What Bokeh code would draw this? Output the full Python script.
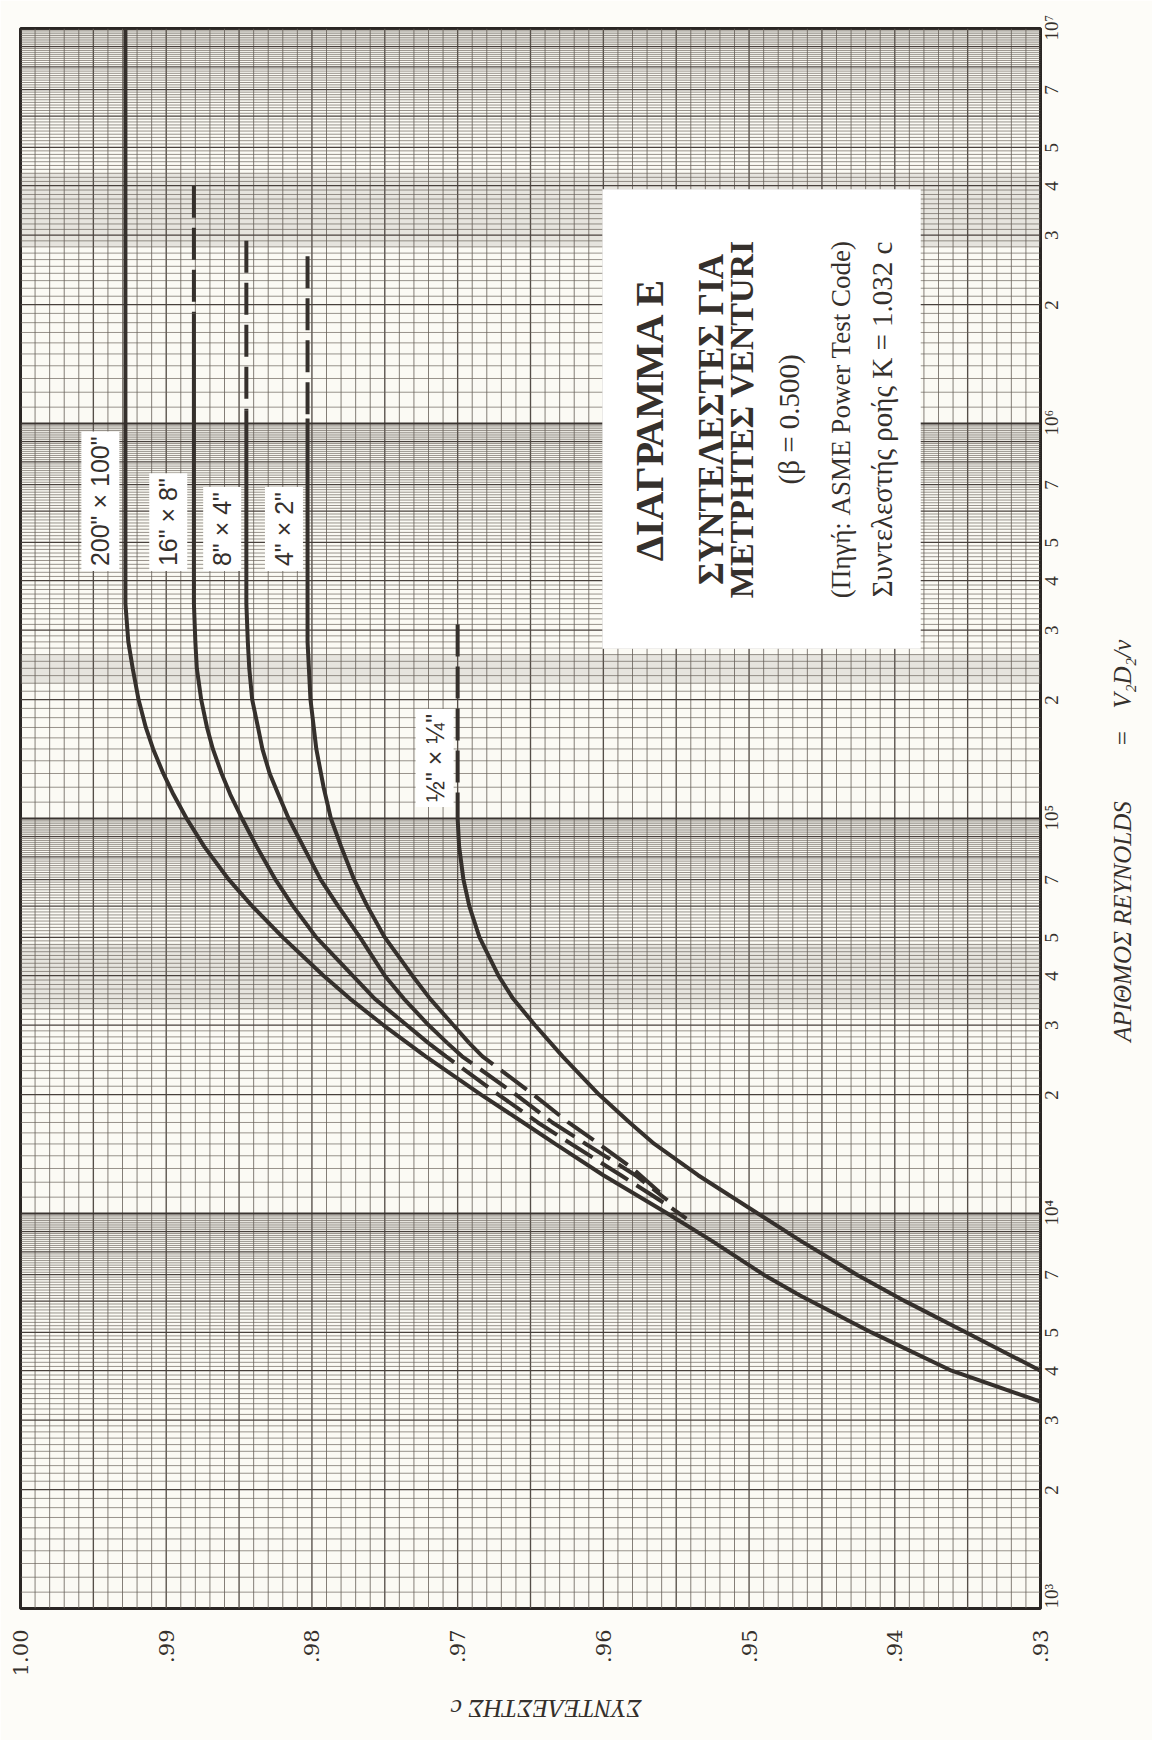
import math
from bokeh.plotting import figure
from bokeh.models import Range1d, FixedTicker, Label, BoxAnnotation, LinearAxis, LogAxis
from bokeh.embed import file_html
from bokeh.resources import INLINE

# ---------------- data ----------------
c_ticks = [1.00, 0.99, 0.98, 0.97, 0.96, 0.95, 0.94, 0.93]
c_tick_labels = ["1.00", ".99", ".98", ".97", ".96", ".95", ".94", ".93"]

re_ticks = [1e3, 2e3, 3e3, 4e3, 5e3, 7e3,
            1e4, 2e4, 3e4, 4e4, 5e4, 7e4,
            1e5, 2e5, 3e5, 4e5, 5e5, 7e5,
            1e6, 2e6, 3e6, 4e6, 5e6, 7e6, 1e7]
re_tick_labels = ["10³", "2", "3", "4", "5", "7",
                  "10⁴", "2", "3", "4", "5", "7",
                  "10⁵", "2", "3", "4", "5", "7",
                  "10⁶", "2", "3", "4", "5", "7", "10⁷"]

x_title = "ΣΥΝΤΕΛΕΣΤΗΣ c"
y_title_parts = ["ΑΡΙΘΜΟΣ REYNOLDS", "=", "V₂D₂/ν"]

# 200" x 100"
re_200 = [1e7, 3.5e5, 2.8e5, 2.4e5, 2e5, 1.7e5, 1.5e5, 1.3e5, 1.15e5, 1e5, 8.5e4, 7e4, 6e4,
          5e4, 4e4, 3.5e4, 3e4, 2.5e4, 2e4, 1.7e4, 1.5e4, 1.25e4, 1e4, 8.5e3, 7e3, 6.2e3,
          5e3, 4e3, 3.34e3]
c_200 = [0.9928, 0.9928, 0.9926, 0.9923, 0.9919, 0.9914, 0.9909, 0.9902, 0.9895, 0.9886, 0.9874,
         0.9857, 0.9841, 0.9820, 0.9792, 0.9774, 0.9751, 0.9722, 0.9684, 0.9655, 0.9633, 0.9600,
         0.9556, 0.9525, 0.9490, 0.9465, 0.9416, 0.9361, 0.9300]

# 16" x 8"
re_16_top = [4.0e6, 1.9e6]
c_16_top = [0.9881, 0.9881]
re_16 = [1.9e6, 3.5e5, 2.8e5, 2.4e5, 2e5, 1.7e5, 1.5e5, 1.3e5, 1.15e5, 1e5, 8.5e4, 7e4, 6e4,
         5e4, 4e4, 3.5e4, 3e4, 2.7e4]
c_16 = [0.9881, 0.9881, 0.9880, 0.9879, 0.9876, 0.9872, 0.9868, 0.9862, 0.9856, 0.9848, 0.9838,
        0.9825, 0.9813, 0.9797, 0.9772, 0.9757, 0.9735, 0.9720]
re_16_low = [2.7e4, 2.5e4, 2e4, 1.7e4, 1.5e4, 1.25e4, 1.05e4, 9.7e3]
c_16_low = [0.9720, 0.9708, 0.9672, 0.9645, 0.9622, 0.9588, 0.9556, 0.9543]

# 8" x 4"
re_8_top = [2.9e6, 1.08e6]
c_8_top = [0.9845, 0.9845]
re_8 = [1.08e6, 3.5e5, 2.8e5, 2.4e5, 2e5, 1.7e5, 1.5e5, 1.3e5, 1.15e5, 1e5, 8.5e4, 7e4, 6e4,
        5e4, 4e4, 3.5e4, 3e4, 2.7e4]
c_8 = [0.9845, 0.9845, 0.9844, 0.9843, 0.9841, 0.9837, 0.9834, 0.9829, 0.9823, 0.9816, 0.9806,
       0.9794, 0.9782, 0.9767, 0.9750, 0.9737, 0.9720, 0.9707]
re_8_low = [2.7e4, 2.5e4, 2e4, 1.7e4, 1.5e4, 1.25e4, 1.08e4]
c_8_low = [0.9707, 0.9697, 0.9660, 0.9635, 0.9612, 0.9578, 0.9556]

# 4" x 2"
re_4_top = [2.65e6, 1.03e6]
c_4_top = [0.9803, 0.9803]
re_4 = [1.03e6, 3.5e5, 2.8e5, 2e5, 1.5e5, 1.2e5, 1e5, 8.5e4, 7e4, 6e4, 5e4, 4e4, 3.5e4,
        3e4, 2.7e4]
c_4 = [0.9803, 0.9803, 0.9803, 0.9801, 0.9797, 0.9792, 0.9787, 0.9780, 0.9771, 0.9762, 0.9750,
       0.9731, 0.9719, 0.9703, 0.9692]
re_4_low = [2.7e4, 2.5e4, 2e4, 1.7e4, 1.5e4, 1.3e4, 1.12e4]
c_4_low = [0.9692, 0.9683, 0.9648, 0.9624, 0.9603, 0.9580, 0.9560]

# 1/2" x 1/4"
re_h_top = [3.1e5, 1e5]
c_h_top = [0.9700, 0.9700]
re_h = [1e5, 8.5e4, 7e4, 6e4, 5e4, 4e4, 3.5e4, 3e4, 2.5e4, 2e4, 1.7e4, 1.5e4, 1.25e4, 1e4,
        8.5e3, 7e3, 6e3, 5e3, 4.5e3, 4e3]
c_h = [0.9700, 0.9699, 0.9696, 0.9692, 0.9685, 0.9672, 0.9662, 0.9647, 0.9628, 0.9603, 0.9582,
       0.9565, 0.9535, 0.9494, 0.9464, 0.9426, 0.9393, 0.9351, 0.9327, 0.9300]

# ---------------- figure ----------------
INK = "#35302c"
GRID = "#675f58"

p = figure(width=1152, height=1740,
           x_range=Range1d(1.0, 0.93), y_range=Range1d(1e3, 1e7),
           y_axis_type="log", y_axis_location="right",
           output_backend="svg", toolbar_location=None,
           min_border_left=20, min_border_right=110,
           min_border_top=28, min_border_bottom=128,
           background_fill_color="#fbfaf4", border_fill_color="#fdfcf8",
           outline_line_color="#2a2624", outline_line_width=3)
p.grid.visible = False

# light tint bands seen on the printed paper
p.quad(left=1.0, right=0.93, bottom=[3.3e4, 2.2e5, 2.8e6], top=[4.8e4, 2.6e5, 4.3e6],
       fill_color="#a9a39b", fill_alpha=0.25, line_color=None)

# graph-paper grid: vertical lines every 0.001 in c
v_thin, v_mid = [], []
for k in range(1, 70):
    cv = round(0.93 + k / 1000.0, 3)
    if k % 5 == 0:
        v_mid.append(cv)
    else:
        v_thin.append(cv)
p.segment(x0=v_thin, x1=v_thin, y0=1e3, y1=1e7, line_color=GRID, line_width=1.0, line_alpha=0.8)
p.segment(x0=v_mid, x1=v_mid, y0=1e3, y1=1e7, line_color="#554e48", line_width=1.35)

# horizontal log lines, mantissa step 0.1
h_thin, h_int, h_dec = [], [], []
for d in [1e3, 1e4, 1e5, 1e6]:
    for m in range(10, 100):
        yv = d * m / 10.0
        if m == 10:
            if d > 1e3:
                h_dec.append(yv)
        elif m % 10 == 0:
            h_int.append(yv)
        else:
            h_thin.append(yv)
p.segment(x0=1.0, x1=0.93, y0=h_thin, y1=h_thin, line_color=GRID, line_width=0.9, line_alpha=0.75)
p.segment(x0=1.0, x1=0.93, y0=h_int, y1=h_int, line_color="#48413c", line_width=1.3)
p.segment(x0=1.0, x1=0.93, y0=h_dec, y1=h_dec, line_color="#3a3430", line_width=2.0)

# curves
LW = 4
DASH = "32 10"
p.line(c_200, re_200, line_color=INK, line_width=LW)
for cs, rs in [(c_16, re_16), (c_8, re_8), (c_4, re_4), (c_h, re_h)]:
    p.line(cs, rs, line_color=INK, line_width=LW)
for cs, rs in [(c_16_top, re_16_top), (c_8_top, re_8_top), (c_4_top, re_4_top), (c_h_top, re_h_top),
               (c_16_low, re_16_low), (c_8_low, re_8_low), (c_4_low, re_4_low)]:
    p.line(cs, rs, line_color=INK, line_width=LW, line_dash=DASH)

# curve labels
def curve_label(x, y, text):
    p.add_layout(Label(x=x, y=y, text=text, angle=math.pi / 2,
                       text_font="Liberation Sans", text_font_size="25px", text_color=INK,
                       text_align="left", text_baseline="middle",
                       background_fill_color="white", background_fill_alpha=1.0,
                       padding=5))

curve_label(0.99452, 4.23e5, '200" × 100"')
curve_label(0.98986, 4.23e5, '16" × 8"')
curve_label(0.98616, 4.23e5, '8" × 4"')
curve_label(0.98192, 4.23e5, '4" × 2"')
curve_label(0.97158, 1.07e5, '½" × ¼"')

# title box
p.add_layout(BoxAnnotation(left=0.96007, right=0.93822, top=3.92e6, bottom=2.69e5,
                           fill_color="white", fill_alpha=1.0, line_color=None))

def box_text(x, text, size, style="normal", font="Liberation Serif"):
    p.add_layout(Label(x=x, y=1.024e6, text=text, angle=math.pi / 2,
                       text_font=font, text_font_size=size, text_font_style=style,
                       text_color=INK, text_align="center", text_baseline="middle"))

box_text(0.95685, "ΔΙΑΓΡΑΜΜΑ Ε", "40px", "bold")
box_text(0.95260, "ΣΥΝΤΕΛΕΣΤΕΣ ΓΙΑ", "35px", "bold")
box_text(0.95055, "ΜΕΤΡΗΤΕΣ VENTURI", "34px", "bold")
box_text(0.94726, "(β = 0.500)", "29px")
box_text(0.94370, "(Πηγή: ASME Power Test Code)", "27px")
box_text(0.94089, "Συντελεστής ροής K = 1.032 c", "29px")

# ---------------- axes ----------------
def plain_axis(ax):
    ax.major_tick_in = 0
    ax.major_tick_out = 0
    ax.minor_tick_line_color = None
    ax.major_tick_line_color = None
    ax.axis_line_color = None
    ax.major_label_text_color = INK

xa = p.xaxis[0]
plain_axis(xa)
xa.ticker = FixedTicker(ticks=c_ticks)
xa.major_label_overrides = dict(zip(c_ticks, c_tick_labels))
xa.major_label_orientation = math.pi / 2
xa.major_label_standoff = 21
xa.major_label_text_font = "DejaVu Serif"
xa.major_label_text_font_size = "21px"

# rotated labels start at their tick: place each tick so the label is centred on its value
re_label_pos = []
for t, lab in zip(re_ticks, re_tick_labels):
    if t in (1e3,):
        re_label_pos.append(t)
    elif lab.startswith("10"):
        re_label_pos.append(t * 0.933)
    else:
        re_label_pos.append(t * 0.971)

ya = p.yaxis[0]
plain_axis(ya)
ya.ticker = FixedTicker(ticks=re_label_pos)
ya.major_label_overrides = dict(zip(re_label_pos, re_tick_labels))
ya.major_label_orientation = math.pi / 2
ya.major_label_standoff = 11
ya.major_label_text_font = "Liberation Serif"
ya.major_label_text_font_size = "19px"

# axis titles as rotated tick-label axes (upside-down below, bottom-to-top on the right)
x_title_pos = 0.9705
xt = LinearAxis(ticker=FixedTicker(ticks=[x_title_pos]),
                major_label_overrides={x_title_pos: x_title})
plain_axis(xt)
xt.major_label_orientation = math.pi
xt.major_label_standoff = 29
xt.major_label_text_font = "Liberation Serif"
xt.major_label_text_font_style = "italic"
xt.major_label_text_font_size = "26px"
p.add_layout(xt, "below")

y_title_pos = [2.72e4, 1.52e5, 1.9e5]
yt = LogAxis(ticker=FixedTicker(ticks=y_title_pos),
             major_label_overrides=dict(zip(y_title_pos, y_title_parts)))
plain_axis(yt)
yt.major_label_orientation = math.pi / 2
yt.major_label_standoff = 47
yt.major_label_text_font = "Liberation Serif"
yt.major_label_text_font_style = "italic"
yt.major_label_text_font_size = "25px"
p.add_layout(yt, "right")

open("out.html", "w").write(file_html(p, INLINE))
